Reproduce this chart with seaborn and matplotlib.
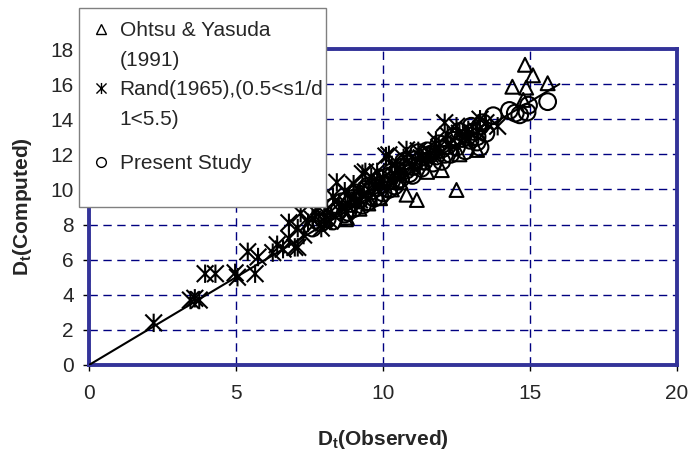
import matplotlib
matplotlib.use("Agg")
import matplotlib.pyplot as plt
import seaborn as sns
from matplotlib.path import Path
from matplotlib.lines import Line2D
from matplotlib.patches import Rectangle

# Ohtsu & Yasuda (1991)
ohtsu_obs = [8.77, 8.74, 9.2, 9.5, 9.9, 10.3, 10.6, 10.8, 11.15, 11.5, 11.8, 12.0,
             12.5, 12.6, 13.0, 13.2, 14.77, 14.4, 14.87, 14.83, 15.1, 15.6]
ohtsu_comp = [8.4, 8.3, 8.9, 9.2, 9.5, 10.0, 10.4, 9.7, 9.4, 11.0, 12.2, 11.1,
              9.97, 12.0, 12.9, 12.25, 15.1, 15.85, 15.8, 17.1, 16.5, 16.05]

# Rand (1965)
rand_obs = [2.2, 3.45, 3.6, 3.75, 3.95, 4.3, 4.97, 5.05, 5.65, 5.4, 5.75, 6.25,
            6.4, 6.6, 7.0, 7.1, 7.2, 6.8, 7.1, 7.45, 7.6, 7.7, 7.9, 8.0, 8.1,
            8.2, 8.43, 8.5, 8.6, 8.8, 9.0, 9.1, 9.2, 9.3, 9.4, 9.5, 9.7, 9.9,
            10.1, 10.2, 10.4, 10.5, 10.6, 10.8, 11.0, 11.1, 11.3, 11.6, 11.9,
            12.1, 12.3, 12.6, 12.9, 13.2, 13.5, 13.9,
            8.3, 8.7, 9.0, 9.2, 9.6, 9.8, 10.0, 10.3, 10.7, 11.2, 11.5, 11.8,
            12.2, 12.5, 12.8, 13.3, 8.0, 7.8, 6.8, 7.3]
rand_comp = [2.4, 3.7, 3.8, 3.7, 5.2, 5.2, 5.25, 5.0, 5.2, 6.45, 6.15, 6.4,
             6.85, 6.6, 6.7, 6.7, 8.65, 8.1, 7.8, 8.1, 8.3, 8.7, 7.8, 8.4, 8.9,
             8.2, 10.4, 9.2, 8.9, 9.1, 9.6, 9.3, 9.4, 10.9, 11.0, 10.0, 10.2,
             10.4, 11.9, 11.97, 10.8, 11.2, 11.1, 12.25, 11.3, 11.6, 11.8, 12.0,
             12.4, 13.8, 12.6, 13.2, 13.4, 13.3, 13.8, 13.6,
             9.6, 9.9, 10.3, 9.9, 10.7, 11.0, 10.6, 11.4, 11.8, 12.2, 11.9, 12.8,
             13.1, 13.6, 13.0, 14.0, 8.2, 9.0, 7.2, 7.4]

# Present Study
present_obs = [7.6, 7.9, 8.1, 8.3, 8.5, 8.7, 8.9, 9.0, 9.2, 9.3, 9.4, 9.5, 9.6,
               9.8, 9.9, 10.0, 10.1, 10.3, 10.4, 10.5, 10.6, 10.7, 10.8, 11.0,
               11.2, 11.4, 11.6, 11.8, 12.0, 12.2, 12.3, 12.4, 12.5, 12.7, 12.96,
               13.1, 13.2, 13.3, 13.3, 13.5, 13.75, 14.3, 14.5, 14.65, 14.9,
               14.95, 15.6,
               8.3, 8.6, 8.8, 9.1, 9.3, 9.5, 9.7, 9.9, 10.2, 10.3, 10.5, 10.7,
               10.9, 11.1, 11.3, 11.5, 11.7, 11.9, 12.1, 12.4, 12.6, 12.8, 13.0,
               13.2, 13.4, 8.0, 9.0, 10.0, 11.0, 12.0]
present_comp = [7.8, 8.1, 8.3, 8.2, 8.8, 8.6, 9.2, 8.9, 9.4, 9.7, 10.0, 9.3, 9.9,
                10.1, 9.6, 10.3, 10.7, 10.5, 10.2, 11.0, 10.6, 11.6, 11.1, 11.3,
                12.1, 11.6, 12.0, 11.9, 12.3, 12.5, 12.0, 13.0, 12.4, 12.9, 12.8,
                13.3, 12.7, 12.4, 13.6, 13.2, 14.2, 14.5, 14.35, 14.25, 14.4,
                14.8, 15.0,
                9.0, 9.3, 8.7, 9.8, 9.1, 10.2, 9.5, 10.6, 10.0, 11.0, 10.5, 11.3,
                10.9, 11.7, 11.2, 12.2, 11.5, 12.6, 12.0, 12.8, 13.3, 12.2, 13.6,
                13.0, 13.8, 8.6, 9.5, 9.8, 10.8, 11.6]

# perfect agreement line
line_x = [0, 16]
line_y = [0, 16]

FRAME = "#333399"
GRID = "#000080"
FS = 15

star = Path([(-1, -1), (1, 1), (-1, 1), (1, -1), (0, -1.1), (0, 1.1)],
            [Path.MOVETO, Path.LINETO, Path.MOVETO, Path.LINETO,
             Path.MOVETO, Path.LINETO])


def main():
    sns.set_style("white")
    plt.rcParams["font.family"] = ["Liberation Sans", "DejaVu Sans"]
    plt.rcParams["mathtext.default"] = "regular"

    fig = plt.figure(figsize=(6.9, 4.5), dpi=100)
    ax = fig.add_axes([89 / 690, 1 - 365 / 450, 588 / 690, 316 / 450])

    sns.scatterplot(x=ohtsu_obs, y=ohtsu_comp, marker="^", s=100,
                    facecolor="none", edgecolor="black", linewidth=1.5,
                    ax=ax, zorder=3)
    sns.scatterplot(x=rand_obs, y=rand_comp, marker=star, s=175,
                    facecolor="none", edgecolor="black", linewidth=1.5,
                    ax=ax, zorder=3)
    sns.scatterplot(x=present_obs, y=present_comp, marker="o", s=145,
                    facecolor="none", edgecolor="black", linewidth=1.5,
                    ax=ax, zorder=3)
    sns.lineplot(x=line_x, y=line_y, color="black", linewidth=1.5,
                 ax=ax, zorder=4)

    ax.set_xlim(0, 20)
    ax.set_ylim(0, 18)
    ax.set_xticks(range(0, 21, 5))
    ax.set_yticks(range(0, 19, 2))
    ax.grid(True, linestyle=(0, (6, 4)), color=GRID, linewidth=1)
    ax.set_axisbelow(True)
    for sp in ax.spines.values():
        sp.set_visible(True)
        sp.set_color(FRAME)
        sp.set_linewidth(2.8)
    ax.tick_params(direction="out", length=4, width=1, color="black",
                   labelsize=FS, bottom=True, left=True)
    ax.tick_params(axis="x", pad=10)
    ax.tick_params(axis="y", pad=7)

    ax.set_xlabel("D$_t$(Observed)", fontsize=FS, fontweight="bold", labelpad=18)
    ax.set_ylabel("D$_t$(Computed)", fontsize=FS, fontweight="bold", labelpad=12)

    # legend box, sticks out above the plot area
    box = Rectangle((79 / 690, 1 - 207 / 450), 247 / 690, 199 / 450,
                    transform=fig.transFigure, facecolor="white",
                    edgecolor="#808080", linewidth=1, zorder=4)
    fig.patches.append(box)

    blank = Line2D([], [], linestyle="none")
    kw = dict(linestyle="none", markerfacecolor="none", markeredgecolor="black")
    handles = [
        Line2D([], [], marker="^", markersize=7, **kw),
        blank,
        Line2D([], [], marker=star, markersize=8, **kw),
        blank,
    ]
    labels = ["Ohtsu & Yasuda", "(1991)", "Rand(1965),(0.5<s1/d", "1<5.5)"]
    leg_kw = dict(loc="upper left", frameon=False, fontsize=FS,
                  handlelength=1.0, handletextpad=0.4, borderpad=0,
                  labelspacing=0.5)
    leg1 = fig.legend(handles, labels,
                      bbox_to_anchor=(80 / 690, 1 - 11 / 450), **leg_kw)
    leg1.set_zorder(5)
    leg2 = fig.legend([Line2D([], [], marker="o", markersize=7, **kw)],
                      ["Present Study"],
                      bbox_to_anchor=(80 / 690, 1 - 144 / 450), **leg_kw)
    leg2.set_zorder(5)

    fig.savefig("out.png", dpi=100)
    plt.close(fig)


if __name__ == "__main__":
    main()
